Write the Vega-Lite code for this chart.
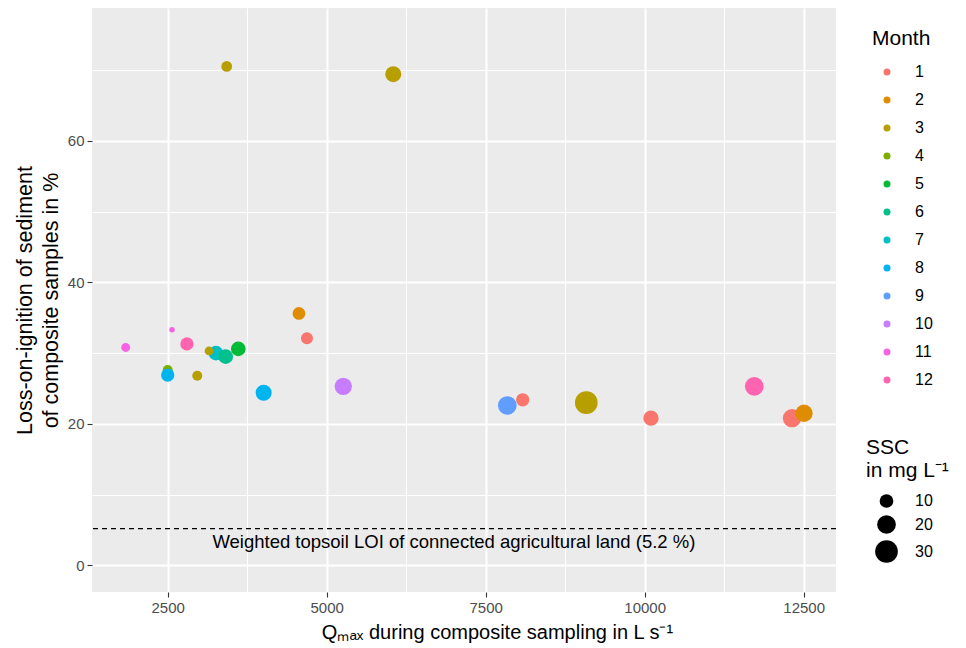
{
  "$schema": "https://vega.github.io/schema/vega-lite/v6.json",
  "width": 744,
  "height": 584,
  "autosize": {"type": "none"},
  "padding": {"left": 92, "top": 8, "right": 130, "bottom": 56},
  "background": "white",
  "config": {
    "font": "Liberation Sans",
    "view": {"fill": "#EBEBEB", "stroke": null},
    "axis": {
      "domain": false,
      "grid": true,
      "tickColor": "#333333",
      "tickSize": 5,
      "tickWidth": 1.1,
      "labelColor": "#4D4D4D",
      "labelFontSize": 15,
      "labelFont": "Liberation Sans",
      "titleFont": "Liberation Sans",
      "titleFontSize": 20,
      "titleFontWeight": "normal",
      "titleColor": "black",
      "gridColor": "white"
    },
    "legend": {
      "titleFont": "Liberation Sans",
      "labelFont": "Liberation Sans",
      "titleFontSize": 21,
      "titleFontWeight": "normal",
      "titleColor": "black",
      "labelColor": "black",
      "labelFontSize": 16
    }
  },
  "data": {
    "values": [
      {"Q": 1840, "LOI": 30.8, "Month": 11, "SSC": 3.4},
      {"Q": 2568, "LOI": 33.3, "Month": 11, "SSC": 0.3},
      {"Q": 2803, "LOI": 31.3, "Month": 12, "SSC": 9.3},
      {"Q": 2500, "LOI": 27.6, "Month": 4, "SSC": 4.6},
      {"Q": 2500, "LOI": 26.9, "Month": 8, "SSC": 9.3},
      {"Q": 2965, "LOI": 26.8, "Month": 3, "SSC": 4.6},
      {"Q": 3259, "LOI": 30.0, "Month": 7, "SSC": 11.7},
      {"Q": 3149, "LOI": 30.3, "Month": 3, "SSC": 3.1},
      {"Q": 3412, "LOI": 29.5, "Month": 6, "SSC": 11.7},
      {"Q": 3610, "LOI": 30.6, "Month": 5, "SSC": 11.7},
      {"Q": 4009, "LOI": 24.4, "Month": 8, "SSC": 14.2},
      {"Q": 4564, "LOI": 35.6, "Month": 2, "SSC": 8.4},
      {"Q": 4690, "LOI": 32.1, "Month": 1, "SSC": 7.3},
      {"Q": 5261, "LOI": 25.3, "Month": 10, "SSC": 16.8},
      {"Q": 3428, "LOI": 70.5, "Month": 3, "SSC": 5.5},
      {"Q": 6047, "LOI": 69.4, "Month": 3, "SSC": 14.2},
      {"Q": 7840, "LOI": 22.6, "Month": 9, "SSC": 19.9},
      {"Q": 8082, "LOI": 23.4, "Month": 1, "SSC": 9.3},
      {"Q": 9082, "LOI": 23.0, "Month": 3, "SSC": 30.1},
      {"Q": 10099, "LOI": 20.8, "Month": 1, "SSC": 12.8},
      {"Q": 11723, "LOI": 25.3, "Month": 12, "SSC": 19.9},
      {"Q": 12316, "LOI": 20.8, "Month": 1, "SSC": 19.0},
      {"Q": 12505, "LOI": 21.5, "Month": 2, "SSC": 16.8}
    ]
  },
  "layer": [
    {
      "data": {"values": [{"level": 5.2}]},
      "mark": {"type": "rule", "color": "black", "strokeWidth": 1.1, "strokeDash": [5, 4]},
      "encoding": {"y": {"field": "level", "type": "quantitative"}}
    },
    {
      "data": {"values": [{"xpos": 7000, "level": 5.2, "label": "Weighted topsoil LOI of connected agricultural land (5.2 %)"}]},
      "mark": {"type": "text", "fontSize": 18.5, "color": "black", "baseline": "middle", "align": "center", "dy": 13, "font": "Liberation Sans"},
      "encoding": {
        "x": {"field": "xpos", "type": "quantitative"},
        "y": {"field": "level", "type": "quantitative"},
        "text": {"field": "label"}
      }
    },
    {
      "mark": {"type": "point", "filled": true, "opacity": 1, "shape": "circle"},
      "encoding": {
        "x": {
          "field": "Q", "type": "quantitative",
          "scale": {"domain": [1310, 13008], "nice": false, "zero": false},
          "axis": {
            "title": "Qₘₐₓ during composite sampling in L s⁻¹",
            "grid": true,
            "values": [2500, 3750, 5000, 6250, 7500, 8750, 10000, 11250, 12500],
            "labelExpr": "datum.value % 2500 === 0 ? format(datum.value, 'd') : ''",
            "gridWidth": {"condition": {"test": "datum.value % 2500 === 0", "value": 2}, "value": 1},
            "tickOpacity": {"condition": {"test": "datum.value % 2500 === 0", "value": 1}, "value": 0},
            "labelPadding": 3,
            "titlePadding": 7,
            "titleX": 405,
            "titleAlign": "center"
          }
        },
        "y": {
          "field": "LOI", "type": "quantitative",
          "scale": {"domain": [-3.75, 78.75], "nice": false, "zero": false},
          "axis": {
            "title": ["Loss-on-ignition of sediment", "of composite samples in %"],
            "grid": true,
            "values": [0, 10, 20, 30, 40, 50, 60, 70],
            "labelExpr": "datum.value % 20 === 0 ? format(datum.value, 'd') : ''",
            "gridWidth": {"condition": {"test": "datum.value % 20 === 0", "value": 2}, "value": 1},
            "tickOpacity": {"condition": {"test": "datum.value % 20 === 0", "value": 1}, "value": 0},
            "labelPadding": 3,
            "titlePadding": 5,
            "titleFontSize": 21.5,
            "titleLineHeight": 26
          }
        },
        "color": {
          "field": "Month", "type": "ordinal",
          "scale": {
            "domain": [1, 2, 3, 4, 5, 6, 7, 8, 9, 10, 11, 12],
            "range": ["#F8766D", "#DE8C00", "#B79F00", "#7CAE00", "#00BA38", "#00C08B", "#00BFC4", "#00B4F0", "#619CFF", "#C77CFF", "#F564E3", "#FF64B0"]
          },
          "legend": {
            "title": "Month",
            "orient": "none",
            "legendX": 780,
            "legendY": 20,
            "symbolSize": 49,
            "symbolType": "circle",
            "symbolStrokeWidth": 0,
            "symbolOffset": 7,
            "rowPadding": 12,
            "labelOffset": 20,
            "titlePadding": 15
          }
        },
        "size": {
          "field": "SSC", "type": "quantitative",
          "scale": {"domain": [0, 31], "range": [25, 530], "zero": false},
          "legend": {
            "title": ["SSC", "in mg L⁻¹"],
            "orient": "none",
            "legendX": 774,
            "legendY": 429,
            "values": [10, 20, 30],
            "symbolFillColor": "black",
            "symbolStrokeWidth": 0,
            "symbolOffset": 9,
            "rowPadding": 6,
            "labelOffset": 17,
            "titlePadding": 12,
            "titleLineHeight": 23
          }
        }
      }
    }
  ]
}
